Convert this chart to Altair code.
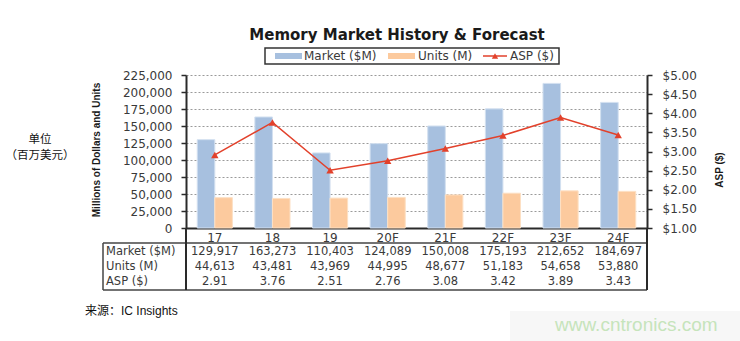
import altair as alt
import pandas as pd

categories = ['17', '18', '19', '20F', '21F', '22F', '23F', '24F']
market = [129917, 163273, 110403, 124089, 150008, 175193, 212652, 184697]
units = [44613, 43481, 43969, 44995, 48677, 51183, 54658, 53880]
asp = [2.91, 3.76, 2.51, 2.76, 3.08, 3.42, 3.89, 3.43]
series_names = ['Market ($M)', 'Units (M)', 'ASP ($)']
left_ticks = [0, 25000, 50000, 75000, 100000, 125000, 150000, 175000, 200000, 225000]
right_ticks = [1.0, 1.5, 2.0, 2.5, 3.0, 3.5, 4.0, 4.5, 5.0]
title_text = 'Memory Market History & Forecast'
left_title = 'Millions of Dollars and Units'
right_title = 'ASP ($)'
unit_lines = ['单位', '（百万美元）']
source_text = '来源：IC Insights'
watermark = 'www.cntronics.com'

W, H = 461, 153
FONT = 'DejaVu Sans'
NARROW = 'Liberation Sans Narrow, Liberation Sans'
TXT = '#3a3a3a'
AX = '#2a2a2a'
BLUE = '#A7C0DF'
ORANGE = '#FCCA9E'
RED = '#E2412B'
FS = 12
TFS = 11.5

bars_df = pd.DataFrame({
    'cat': categories * 2,
    'series': [series_names[0]] * len(categories) + [series_names[1]] * len(categories),
    'value': market + units,
})
line_df = pd.DataFrame({'cat': categories, 'asp': asp})
table_df = pd.DataFrame({
    'cat': categories,
    'm': [f'{v:,}' for v in market],
    'u': [f'{v:,}' for v in units],
    'a': [f'{v:.2f}' for v in asp],
})
one = pd.DataFrame({'k': [0]})

x_axis = alt.Axis(title=None, labelAngle=0, ticks=False, domainColor=AX, domainWidth=2,
                  labelPadding=4, labelFont=FONT, labelFontSize=FS, labelColor=TXT)
x_enc = alt.X('cat:N', sort=categories,
              scale=alt.Scale(domain=categories, paddingInner=0.39, paddingOuter=0.195),
              axis=x_axis)

bars = alt.Chart(bars_df).mark_bar(strokeWidth=1).encode(
    x=x_enc,
    xOffset=alt.XOffset('series:N', sort=series_names[:2],
                        scale=alt.Scale(domain=series_names[:2])),
    y=alt.Y('value:Q', scale=alt.Scale(domain=[0, 225000], nice=False),
            axis=alt.Axis(title=None, values=left_ticks, format=',.0f', tickSize=5, tickColor=AX,
                          tickWidth=1.5, domainColor=AX, domainWidth=2, labelPadding=9,
                          labelFont=FONT, labelFontSize=FS, labelColor=TXT,
                          grid=True, gridDash=[2, 2], gridColor='#9a9a9a', gridWidth=1)),
    color=alt.Color('series:N', scale=alt.Scale(domain=series_names[:2], range=[BLUE, ORANGE]),
                    legend=None),
    stroke=alt.Stroke('series:N', scale=alt.Scale(domain=series_names[:2],
                                                  range=['#d3e0f0', '#fde0c4']), legend=None),
)

yr_scale = alt.Scale(domain=[1, 5], nice=False, zero=False)
line = alt.Chart(line_df).mark_line(color=RED, strokeWidth=1.5).encode(
    x=x_enc,
    y=alt.Y('asp:Q', scale=yr_scale,
            axis=alt.Axis(title=None, orient='right', values=right_ticks, format='$.2f',
                          tickSize=5, tickColor=AX, tickWidth=1.5, domainColor=AX, domainWidth=2,
                          labelPadding=10, labelFont=FONT, labelFontSize=FS, labelColor=TXT,
                          grid=False)),
)
pts = alt.Chart(line_df).mark_point(shape='triangle-up', filled=True, color=RED, size=55,
                                    opacity=1).encode(
    x=x_enc,
    y=alt.Y('asp:Q', scale=yr_scale, axis=None),
)


def row_text(field, yv):
    return alt.Chart(table_df).mark_text(font=FONT, fontSize=TFS, color=TXT,
                                         baseline='middle').encode(
        x=x_enc, y=alt.value(yv), text=f'{field}:N')


def txt(s, x, y, **kw):
    return alt.Chart(pd.DataFrame({'t': [s]})).mark_text(**kw).encode(
        x=alt.value(x), y=alt.value(y), text='t:N')


def rule(x1, y1, x2, y2, color, width):
    return alt.Chart(one).mark_rule(color=color, strokeWidth=width).encode(
        x=alt.value(x1), x2=alt.value(x2), y=alt.value(y1), y2=alt.value(y2))


def rect(x1, y1, x2, y2, **kw):
    return alt.Chart(one).mark_rect(**kw).encode(
        x=alt.value(x1), x2=alt.value(x2), y=alt.value(y1), y2=alt.value(y2))


layers = [
    rect(324, 236, 554, 266, fill='#f7f7f7'),
    bars, line, pts,
    # table
    rule(-83, 168, W, 168, '#444', 1.5),
    rule(-83, 215, W, 215, '#444', 1.5),
    rule(-83, 168, -83, 215, '#444', 1.5),
    rule(W, 153, W, 215, AX, 2),
    rule(0, 153, 0, 215, AX, 2),
    row_text('m', 177), row_text('u', 192), row_text('a', 207),
    txt(series_names[0], -80, 177, font=FONT, fontSize=TFS, color=TXT, align='left', baseline='middle'),
    txt(series_names[1], -80, 192, font=FONT, fontSize=TFS, color=TXT, align='left', baseline='middle'),
    txt(series_names[2], -80, 207, font=FONT, fontSize=TFS, color=TXT, align='left', baseline='middle'),
    # title
    txt(title_text, 211, -40, font=FONT, fontSize=15, fontWeight='bold', color='#1a1a1a',
        align='center', baseline='middle'),
    # legend
    rect(79, -27, 373, -11, fill='white', stroke='#333', strokeWidth=1.5),
    rect(89, -22, 116, -16, fill=BLUE),
    txt(series_names[0], 118, -19, font=FONT, fontSize=FS, color=TXT, align='left', baseline='middle'),
    rect(202, -22, 229, -16, fill=ORANGE),
    txt(series_names[1], 232, -19, font=FONT, fontSize=FS, color=TXT, align='left', baseline='middle'),
    rule(297, -19, 321, -19, RED, 1.5),
    alt.Chart(one).mark_point(shape='triangle-up', filled=True, color=RED, size=40, opacity=1).encode(
        x=alt.value(309), y=alt.value(-19)),
    txt(series_names[2], 324, -19, font=FONT, fontSize=FS, color=TXT, align='left', baseline='middle'),
    # axis titles
    txt(left_title, -89, 75, font=NARROW, fontSize=10, fontWeight='bold', color='#1a1a1a',
        angle=270, align='center', baseline='middle'),
    txt(right_title, 534, 95, font=NARROW, fontSize=10, fontWeight='bold', color='#1a1a1a',
        angle=270, align='center', baseline='middle'),
    # side notes
    txt(unit_lines[0], -146, 65, font='Noto Sans CJK SC', fontSize=11.5, color='#111',
        align='center', baseline='middle'),
    txt(unit_lines[1], -146, 81, font='Noto Sans CJK SC', fontSize=11.5, color='#111',
        align='center', baseline='middle'),
    txt(source_text, -101, 236, font='Liberation Sans, Noto Sans CJK SC', fontSize=12, color='#111',
        align='left', baseline='middle'),
    txt(watermark, 369, 250, font='Liberation Sans', fontSize=19, color='#c6e4bb',
        align='left', baseline='middle'),
]

chart = alt.layer(*layers).resolve_scale(y='independent').properties(
    width=W, height=H,
    autosize=alt.AutoSizeParams(type='none'),
    padding={'left': 186, 'top': 75, 'right': 93, 'bottom': 113},
    background='white',
).configure_view(stroke=None)

chart.save('out.html', embed_options={'renderer': 'svg', 'actions': False})
